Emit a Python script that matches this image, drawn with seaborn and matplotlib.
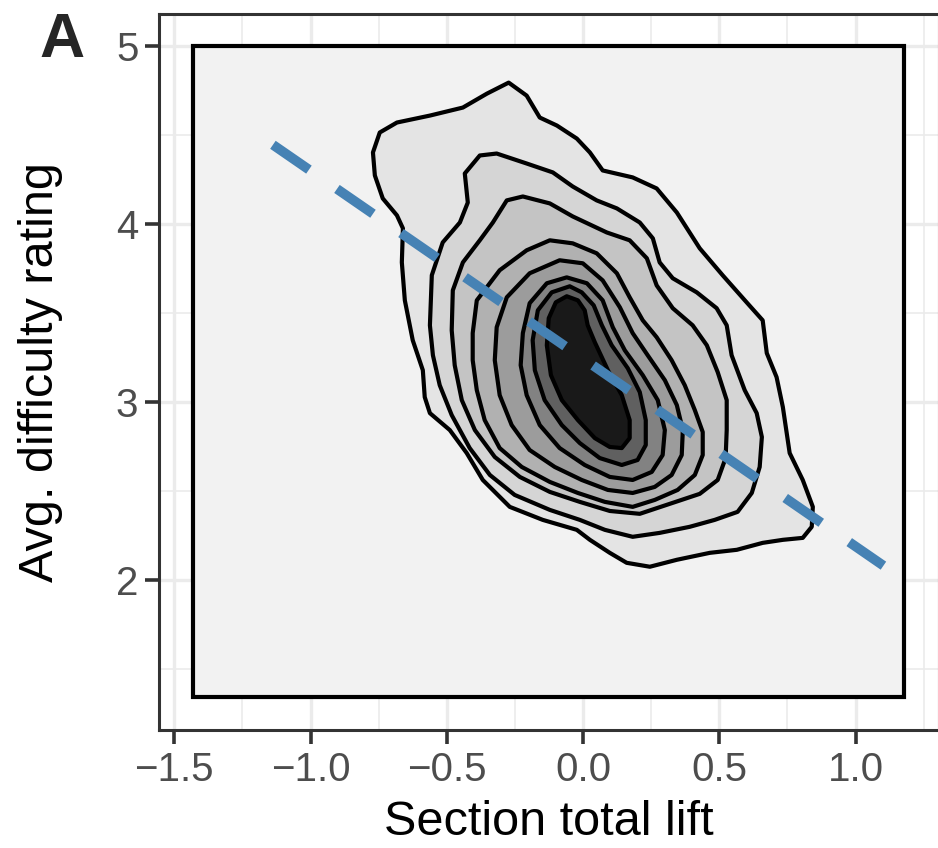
import matplotlib
matplotlib.use("Agg")
import matplotlib.pyplot as plt
import seaborn as sns
import numpy as np

# ---------------- data ----------------
x_label = "Section total lift"
y_label = "Avg. difficulty rating"
panel_tag = "A"
x_ticks = [-1.5, -1.0, -0.5, 0.0, 0.5, 1.0]
x_tick_labels = ["\u22121.5", "\u22121.0", "\u22120.5", "0.0", "0.5", "1.0"]
y_ticks = [2, 3, 4, 5]
x_minor = [-1.25, -0.75, -0.25, 0.25, 0.75, 1.25]
y_minor = [1.5, 2.5, 3.5, 4.5]

# extent of the lowest density band (whole estimation grid)
grid_x = [-1.431, 1.176]
grid_y = [1.343, 5.0]

# fitted regression line end points
fit_x = [-1.138, 1.102]
fit_y = [4.444, 2.082]

# density contour outlines, outermost (level 1) to innermost (level 8)
c1_x = [-0.273, -0.207, -0.159, -0.096, -0.023, 0.025, 0.072, 0.182, 0.270, 0.344, 0.428, 0.512, 0.600,
        0.659, 0.674, 0.710, 0.733, 0.758, 0.806, 0.843, 0.839, 0.806, 0.733, 0.659, 0.564, 0.465, 0.344,
        0.245, 0.160, 0.098, 0.025, -0.023, -0.148, -0.269, -0.368, -0.427, -0.489, -0.562, -0.581, -0.588,
        -0.625, -0.654, -0.665, -0.661, -0.683, -0.735, -0.764, -0.771, -0.746, -0.683, -0.562, -0.441, -0.353]
c1_y = [4.793, 4.720, 4.597, 4.552, 4.479, 4.401, 4.300, 4.261, 4.199, 4.064, 3.863, 3.712, 3.560,
        3.459, 3.275, 3.140, 2.972, 2.714, 2.563, 2.412, 2.300, 2.238, 2.227, 2.210, 2.171, 2.154, 2.115,
        2.076, 2.098, 2.154, 2.227, 2.283, 2.339, 2.412, 2.563, 2.714, 2.843, 2.938, 3.028, 3.179,
        3.347, 3.571, 3.784, 3.975, 4.048, 4.143, 4.272, 4.401, 4.513, 4.569, 4.608, 4.653, 4.731]

c2_x = [-0.434, -0.379, -0.317, -0.207, -0.111, -0.038, 0.050, 0.124, 0.208, 0.256, 0.281, 0.329, 0.417,
        0.490, 0.527, 0.545, 0.593, 0.637, 0.656, 0.648, 0.619, 0.567, 0.483, 0.391, 0.281, 0.182, 0.080,
        -0.012, -0.122, -0.251, -0.342, -0.416, -0.482, -0.526, -0.551, -0.562, -0.555, -0.515, -0.452, -0.423]
c2_y = [4.283, 4.384, 4.395, 4.339, 4.289, 4.210, 4.132, 4.087, 4.008, 3.919, 3.784, 3.695, 3.616,
        3.527, 3.431, 3.263, 3.067, 2.938, 2.804, 2.636, 2.490, 2.384, 2.339, 2.300, 2.266, 2.244, 2.283,
        2.339, 2.395, 2.479, 2.591, 2.742, 2.927, 3.095, 3.263, 3.431, 3.712, 3.896, 4.008, 4.120]

c3_x = [-0.280, -0.221, -0.122, -0.038, 0.087, 0.171, 0.234, 0.270, 0.329, 0.402, 0.454, 0.494, 0.527,
        0.527, 0.523, 0.494, 0.428, 0.318, 0.208, 0.098, -0.012, -0.122, -0.232, -0.324, -0.397, -0.445,
        -0.471, -0.482, -0.478, -0.441, -0.379, -0.331]
c3_y = [4.132, 4.154, 4.115, 4.042, 3.952, 3.908, 3.807, 3.655, 3.527, 3.431, 3.319, 3.168, 3.011,
        2.843, 2.686, 2.563, 2.485, 2.429, 2.373, 2.389, 2.440, 2.496, 2.580, 2.692, 2.843, 3.011,
        3.207, 3.403, 3.627, 3.784, 3.908, 4.008]

c4_x = [-0.405, -0.390, -0.306, -0.207, -0.122, -0.038, 0.050, 0.124, 0.171, 0.219, 0.270, 0.325, 0.373,
        0.410, 0.439, 0.439, 0.410, 0.347, 0.263, 0.182, 0.080, -0.019, -0.122, -0.225, -0.306, -0.361,
        -0.390, -0.405]
c4_y = [3.387, 3.571, 3.740, 3.852, 3.908, 3.891, 3.835, 3.723, 3.588, 3.459, 3.364, 3.235, 3.095,
        2.955, 2.832, 2.703, 2.591, 2.507, 2.451, 2.412, 2.440, 2.490, 2.552, 2.636, 2.742, 2.899,
        3.067, 3.235]

c5_x = [-0.317, -0.280, -0.196, -0.086, -0.001, 0.072, 0.135, 0.182, 0.237, 0.300, 0.344, 0.366, 0.362,
        0.325, 0.263, 0.182, 0.091, -0.005, -0.104, -0.196, -0.262, -0.306, -0.324]
c5_y = [3.420, 3.588, 3.723, 3.796, 3.779, 3.683, 3.532, 3.387, 3.263, 3.123, 2.983, 2.843, 2.703,
        2.591, 2.524, 2.490, 2.507, 2.563, 2.636, 2.731, 2.871, 3.039, 3.235]

c6_x = [-0.221, -0.196, -0.133, -0.060, 0.014, 0.072, 0.109, 0.153, 0.219, 0.274, 0.300, 0.292, 0.252,
        0.182, 0.098, 0.006, -0.086, -0.159, -0.207, -0.229]
c6_y = [3.387, 3.555, 3.667, 3.700, 3.667, 3.571, 3.420, 3.291, 3.151, 3.011, 2.843, 2.703, 2.608,
        2.563, 2.580, 2.647, 2.742, 2.871, 3.039, 3.207]

c7_x = [-0.115, -0.049, -0.005, 0.039, 0.069, 0.105, 0.164, 0.208, 0.230, 0.230, 0.200, 0.142, 0.061,
        -0.012, -0.078, -0.141, -0.177, -0.185, -0.166]
c7_y = [3.616, 3.650, 3.616, 3.543, 3.431, 3.319, 3.190, 3.056, 2.899, 2.759, 2.675, 2.647, 2.686,
        2.770, 2.871, 3.011, 3.179, 3.347, 3.515]

c8_x = [-0.060, -0.019, 0.006, 0.017, 0.043, 0.091, 0.142, 0.171, 0.171, 0.142, 0.098, 0.043, -0.019,
        -0.078, -0.118, -0.133, -0.126, -0.100]
c8_y = [3.594, 3.571, 3.515, 3.431, 3.336, 3.179, 3.039, 2.899, 2.798, 2.742, 2.748, 2.798, 2.899,
        3.011, 3.151, 3.319, 3.471, 3.560]

contours_x = [c1_x, c2_x, c3_x, c4_x, c5_x, c6_x, c7_x, c8_x]
contours_y = [c1_y, c2_y, c3_y, c4_y, c5_y, c6_y, c7_y, c8_y]

# ---------------- style ----------------
sns.set_theme(style="white")
plt.rcParams['font.family'] = ['Liberation Sans', 'DejaVu Sans']

n_bands = len(contours_x) + 1
band_grey = (np.linspace(0.95 ** 2.2, 0.10 ** 2.2, n_bands)) ** (1 / 2.2)
band_cols = [matplotlib.colors.to_hex((g, g, g)) for g in band_grey]

fig = plt.figure(figsize=(9.38, 8.48), dpi=100)
ax = fig.add_axes([0.1698, 0.1392, 0.831, 0.8447])
ax.set_xlim(-1.555, 1.305)
ax.set_ylim(1.16, 5.18)

# grid
for v in x_minor:
    ax.axvline(v, color="#ebebeb", lw=1.2, zorder=0)
for v in y_minor:
    ax.axhline(v, color="#ebebeb", lw=1.2, zorder=0)
for v in x_ticks:
    ax.axvline(v, color="#ebebeb", lw=2.4, zorder=0)
for v in y_ticks:
    ax.axhline(v, color="#ebebeb", lw=2.4, zorder=0)

# background band
ax.fill([grid_x[0], grid_x[1], grid_x[1], grid_x[0]],
        [grid_y[0], grid_y[0], grid_y[1], grid_y[1]],
        facecolor=band_cols[0], edgecolor="black", lw=3.0, zorder=1, joinstyle="miter")

for i, (cx, cy) in enumerate(zip(contours_x, contours_y)):
    ax.fill(cx, cy, facecolor=band_cols[i + 1], edgecolor="black", lw=3.0, zorder=2 + i,
            joinstyle="round")

sns.lineplot(x=fit_x, y=fit_y, ax=ax, color="steelblue", lw=7.0, linestyle=(0, (4.5, 3.5)),
             zorder=20, estimator=None, sort=False)

ax.set_xticks(x_ticks)
ax.set_xticklabels(x_tick_labels)
ax.set_yticks(y_ticks)
ax.set_yticklabels([str(v) for v in y_ticks])
ax.tick_params(axis="both", which="major", direction="out", length=10, width=2.6,
               color="#333333", labelcolor="#4d4d4d", labelsize=29, pad=5,
               bottom=True, left=True)
for s in ax.spines.values():
    s.set_color("#333333")
    s.set_linewidth(2.2)

ax.set_xlabel(x_label, fontsize=35, color="black")
ax.set_ylabel(y_label, fontsize=35, color="black")
ax.xaxis.set_label_coords(0.5, -0.098)
ax.yaxis.set_label_coords(-0.124, 0.5)

fig.text(0.042, 1 - 57 / 848, panel_tag, fontsize=45, fontweight="bold", ha="left", va="baseline")

fig.savefig("out.png", dpi=100)
